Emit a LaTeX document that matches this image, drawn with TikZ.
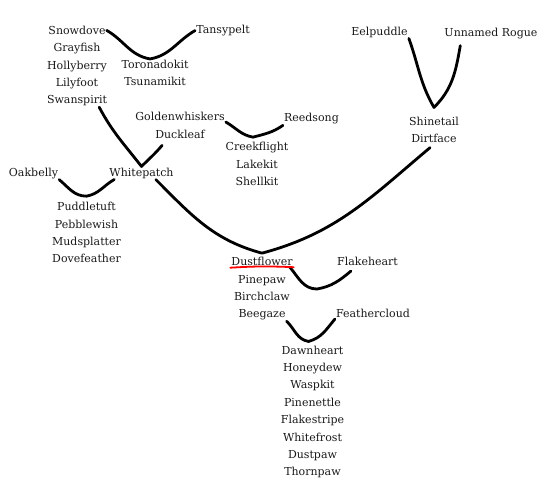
\documentclass[tikz,border=0pt]{standalone}
\usepackage{fontspec}
\setmainfont{DejaVu Serif}
\usepackage{tikz}

\begin{document}
\begin{tikzpicture}[x=1pt,y=-1pt,
  cat/.style={anchor=base,inner sep=1pt,font=\fontsize{11}{12}\selectfont,text=black!90},
  tie/.style={line width=2.8pt,line cap=round,line join=round}]
\useasboundingbox (0,0) rectangle (540,501);
\def\dy{17.3}
% Snowdove and her litter mates
\foreach \n [count=\i from 0] in {Snowdove,Grayfish,Hollyberry,Lilyfoot,Swanspirit}
  \node[cat] (\n) at (77,34.5+\dy*\i) {\n};
\node[cat] (Tansypelt) at (223,33.5) {Tansypelt};
\foreach \n [count=\i from 0] in {Toronadokit,Tsunamikit}
  \node[cat] (\n) at (155,68.5+\dy*\i) {\n};
% Goldenwhiskers line
\foreach \n [count=\i from 0] in {Goldenwhiskers,Duckleaf}
  \node[cat] (\n) at (180,120.7+\dy*\i) {\n};
\node[cat] (Reedsong) at (311.5,121.7) {Reedsong};
\foreach \n [count=\i from 0] in {Creekflight,Lakekit,Shellkit}
  \node[cat] (\n) at (257,150.7+\dy*\i) {\n};
% rogue side
\node[cat] (Eelpuddle) at (379.5,35) {Eelpuddle};
\node[cat] (rogue) at (491,36) {Unnamed Rogue};
\foreach \n [count=\i from 0] in {Shinetail,Dirtface}
  \node[cat] (\n) at (434,125+\dy*\i) {\n};
% Whitepatch
\node[cat] (Oakbelly) at (33.5,176) {Oakbelly};
\node[cat] (Whitepatch) at (141.5,176) {Whitepatch};
\foreach \n [count=\i from 0] in {Puddletuft,Pebblewish,Mudsplatter,Dovefeather}
  \node[cat] (\n) at (86.5,210.7+\dy*\i) {\n};
% Dustflower
\foreach \n [count=\i from 0] in {Dustflower,Pinepaw,Birchclaw,Beegaze}
  \node[cat] (\n) at (262,265.7+\dy*\i) {\n};
\node[cat] (Flakeheart) at (367.5,265.7) {Flakeheart};
\node[cat] (Feathercloud) at (373,317.7) {Feathercloud};
\foreach \n [count=\i from 0] in {Dawnheart,Honeydew,Waspkit,Pinenettle,Flakestripe,Whitefrost,Dustpaw,Thornpaw}
  \node[cat] (\n) at (312.5,354+17.4*\i) {\n};

% mate lines
\draw[tie] (Snowdove.east) to[out=-30,in=170] ([xshift=-5pt]Toronadokit.north)
  to[out=10,in=-150] (Tansypelt.west);
\draw[tie] ([xshift=-9pt]Swanspirit.south east) to[out=-62,in=128] (Whitepatch.north)
  to[out=45,in=-130] ([shift={(8pt,-6pt)}]Duckleaf.south west);
\draw[tie] (Oakbelly.south east) to[out=-40,in=180] ([yshift=5pt]Puddletuft.north)
  to[out=10,in=-150] ([xshift=6pt]Whitepatch.south west);
\draw[tie] (Goldenwhiskers.south east) to[out=-30,in=170] ([shift={(-4pt,4pt)}]Creekflight.north)
  to[out=15,in=-145] (Reedsong.south west);
\draw[tie] (Eelpuddle.south east) to[out=-70,in=120] ([yshift=8pt]Shinetail.north)
  to[out=45,in=-100] ([shift={(17pt,-6pt)}]rogue.south west);
\draw[tie] ([xshift=-19pt]Whitepatch.south east) to[out=-45,in=165] ([yshift=3pt]Dustflower.north)
  to[out=15,in=-140] ([shift={(-4pt,-4pt)}]Dirtface.south);
\coordinate (litter) at (317,289);
\draw[tie] ([xshift=-4pt]Dustflower.south east) to[out=-50,in=180] (litter)
  to[out=10,in=-140] ([shift={(15pt,-4pt)}]Flakeheart.south west);
\draw[tie] (Beegaze.south east) to[out=-45,in=170] ([shift={(-4pt,3pt)}]Dawnheart.north)
  to[out=15,in=-130] (Feathercloud.south west);
% underline
\draw[red,line width=1.8pt,line cap=round] ([yshift=-2pt]Dustflower.base west)
  to[bend left=3] ([yshift=-1.5pt]Dustflower.base east);
\end{tikzpicture}
\end{document}
